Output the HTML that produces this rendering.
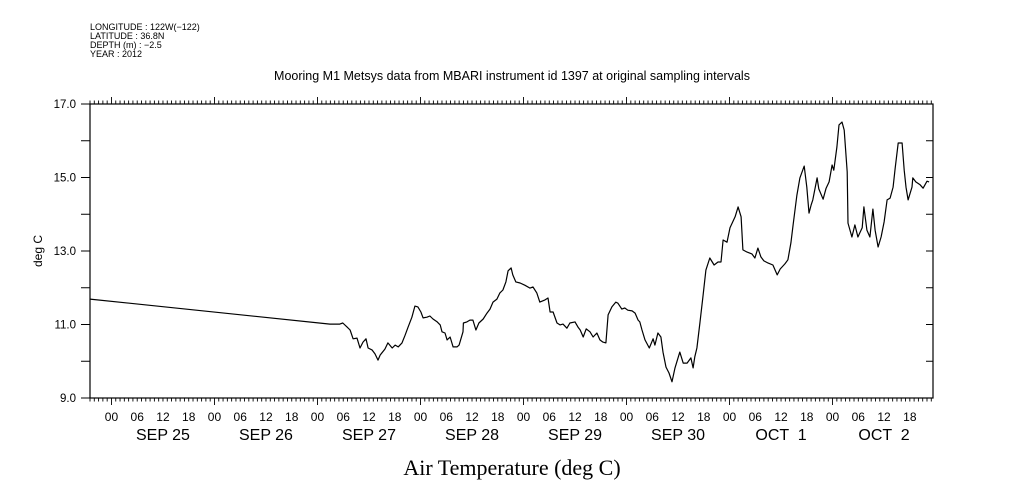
<!DOCTYPE html>
<html><head><meta charset="utf-8">
<style>
html,body{margin:0;padding:0;background:#fff;}
svg{display:block;font-family:"Liberation Sans",sans-serif;}
</style></head>
<body>
<svg id="chart" width="1009" height="504" viewBox="0 0 1009 504" xmlns="http://www.w3.org/2000/svg">
  <g font-size="9" fill="#000">
    <text x="90" y="30">LONGITUDE : 122W(−122)</text>
    <text x="90" y="39">LATITUDE : 36.8N</text>
    <text x="90" y="48">DEPTH (m) : −2.5</text>
    <text x="90" y="57">YEAR : 2012</text>
  </g>
  <text x="512" y="80" text-anchor="middle" font-size="12.5">Mooring M1 Metsys data from MBARI instrument id 1397 at original sampling intervals</text>
  <text x="512" y="475" text-anchor="middle" font-size="22" font-family="'Liberation Serif',serif">Air Temperature (deg C)</text>
  <text transform="translate(42,251) rotate(-90)" text-anchor="middle" font-size="12">deg C</text>
  <g id="axes"></g>
  <g id="series"></g>
</svg>
<script>
// hours since SEP 25 00:00 (2012)
const hours = [-5.0,50.9,53.2,53.9,54.9,55.6,56.3,57.2,57.9,58.6,59.3,59.8,60.7,61.4,62.1,62.6,63.7,64.4,65.4,66.1,66.8,67.7,68.4,69.1,70.0,70.7,71.4,72.1,72.6,73.5,74.2,74.9,75.9,76.6,77.0,77.7,78.2,78.9,79.6,80.5,81.0,81.9,82.0,82.8,83.5,84.2,84.9,85.6,86.6,87.5,88.2,88.9,89.8,90.5,91.2,91.9,92.4,93.1,93.5,94.2,95.2,96.3,97.5,98.2,99.1,99.8,101.0,101.7,102.2,102.9,103.8,104.5,105.2,106.1,106.8,108.0,108.7,109.2,109.9,110.6,111.5,112.2,113.1,113.8,114.5,115.2,115.7,116.6,117.5,118.0,118.9,119.6,120.3,121.3,122.0,122.7,123.1,123.6,124.3,125.3,126.2,126.6,127.3,128.0,128.5,129.2,129.9,130.6,131.3,132.4,133.2,134.1,135.0,135.5,135.9,136.4,137.1,137.8,138.5,139.4,140.4,141.3,142.0,142.5,143.4,144.1,145.3,146.0,146.7,147.1,148.1,149.2,149.9,150.6,151.3,152.0,153.0,154.1,155.1,155.8,156.9,157.6,158.3,158.8,159.7,160.4,161.4,162.0,162.5,163.0,163.4,164.4,164.8,165.8,166.5,167.2,167.9,168.3,169.0,169.5,170.2,170.7,171.4,171.6,172.5,173.2,173.9,174.9,175.3,176.0,176.7,177.4,177.9,178.6,179.3,180.0,180.7,181.4,182.1,182.6,183.3,184.2,184.7,185.1,185.6,186.5,186.7,187.4,188.4,189.1,190.0,190.5];
const temps = [11.69,11.01,11.01,11.04,10.93,10.85,10.61,10.63,10.36,10.52,10.61,10.36,10.31,10.20,10.03,10.17,10.33,10.50,10.36,10.44,10.39,10.50,10.71,10.93,11.20,11.50,11.48,11.34,11.18,11.20,11.23,11.15,11.07,10.99,10.80,10.77,10.58,10.66,10.39,10.39,10.44,10.80,11.04,11.07,11.12,11.12,10.85,11.04,11.15,11.31,11.42,11.61,11.69,11.86,11.94,12.16,12.46,12.54,12.35,12.16,12.13,12.07,11.99,12.02,11.86,11.61,11.67,11.72,11.34,11.34,11.04,10.99,11.01,10.90,11.04,11.07,10.93,10.85,10.66,10.88,10.80,10.66,10.77,10.58,10.52,10.50,11.26,11.48,11.61,11.58,11.42,11.45,11.39,11.37,11.31,11.12,11.07,10.85,10.58,10.36,10.61,10.44,10.77,10.66,10.25,9.84,9.68,9.44,9.82,10.25,9.95,9.95,10.09,9.82,10.12,10.36,11.04,11.75,12.48,12.81,12.62,12.70,12.70,13.30,13.24,13.63,13.93,14.20,13.93,13.03,12.97,12.92,12.81,13.08,12.84,12.73,12.67,12.62,12.35,12.51,12.65,12.76,13.22,13.71,14.52,14.99,15.31,14.74,14.03,14.25,14.39,14.99,14.69,14.41,14.71,14.88,15.34,15.20,15.83,16.43,16.51,16.29,15.15,13.76,13.38,13.71,13.38,13.63,14.20,13.57,13.38,14.14,13.57,13.11,13.38,13.79,14.39,14.44,14.74,15.26,15.94,15.94,15.20,14.74,14.39,14.74,14.99,14.88,14.80,14.71,14.90,14.88];
const yTickLabels = ["9.0","11.0","13.0","15.0","17.0"];
const hourLabels = ["00","06","12","18"];
const dayLabels = ["SEP 25","SEP 26","SEP 27","SEP 28","SEP 29","SEP 30","OCT  1","OCT  2"];

const NS = "http://www.w3.org/2000/svg";
const L = 90, R = 933, T = 104, B = 398;
const H0 = -5.0, H1 = 191.4, Y0 = 9, Y1 = 17;
function xs(h){ return L + (h - H0) / (H1 - H0) * (R - L); }
function ys(v){ return B - (v - Y0) / (Y1 - Y0) * (B - T); }
function mk(tag, attrs, parent){
  const e = document.createElementNS(NS, tag);
  for (const k in attrs) e.setAttribute(k, attrs[k]);
  parent.appendChild(e);
  return e;
}
const axes = document.getElementById('axes');
const frame = mk('rect', {x:L, y:T, width:R-L, height:B-T, fill:'none', stroke:'#000', 'stroke-width':1.2}, axes);



// y ticks
for (let v = Y0; v <= Y1; v++) {
  const y = ys(v);
  const t = mk('line', {x1:L-9, x2:L, y1:y, y2:y, stroke:'#000'}, axes);
  
  
  const t2 = mk('line', {x1:R-7, x2:R, y1:y, y2:y, stroke:'#000'}, axes);
  
  
}
yTickLabels.forEach(s => {
  const tx = mk('text', {x:76, y:ys(parseFloat(s))+4, 'text-anchor':'end', 'font-size':11.5}, axes);
  tx.textContent = s;
  
  
});
// x ticks (hourly)
for (let h = Math.ceil(H0); h <= H1; h++) {
  const x = xs(h);
  const day = ((h % 24) + 24) % 24 === 0;
  const len = day ? 7 : 3.5;
  const tb = mk('line', {x1:x, x2:x, y1:B, y2:B+len, stroke:'#000', 'stroke-width':0.9}, axes);
  
  
  const tt = mk('line', {x1:x, x2:x, y1:T, y2:T-len, stroke:'#000', 'stroke-width':0.9}, axes);
  
  
}
dayLabels.forEach((d, i) => {
  hourLabels.forEach((hl, j) => {
    const h = i*24 + j*6;
    if (h < H0 || h > H1) return;
    const tx = mk('text', {x:xs(h), y:421, 'text-anchor':'middle', 'font-size':12}, axes);
    tx.textContent = hl;
    
    
  });
  const dx = mk('text', {x:xs(i*24+12), y:440, 'text-anchor':'middle', 'font-size':16, 'xml:space':'preserve', style:'white-space:pre'}, axes);
  dx.textContent = d;
  
  
});
// series
const series = document.getElementById('series');
const pts = hours.map((h, i) => xs(h).toFixed(1) + ',' + ys(temps[i]).toFixed(1)).join(' ');
const line = mk('polyline', {points:pts, fill:'none', stroke:'#000', 'stroke-width':1.2, 'stroke-linejoin':'round'}, series);


</script>
</body></html>
